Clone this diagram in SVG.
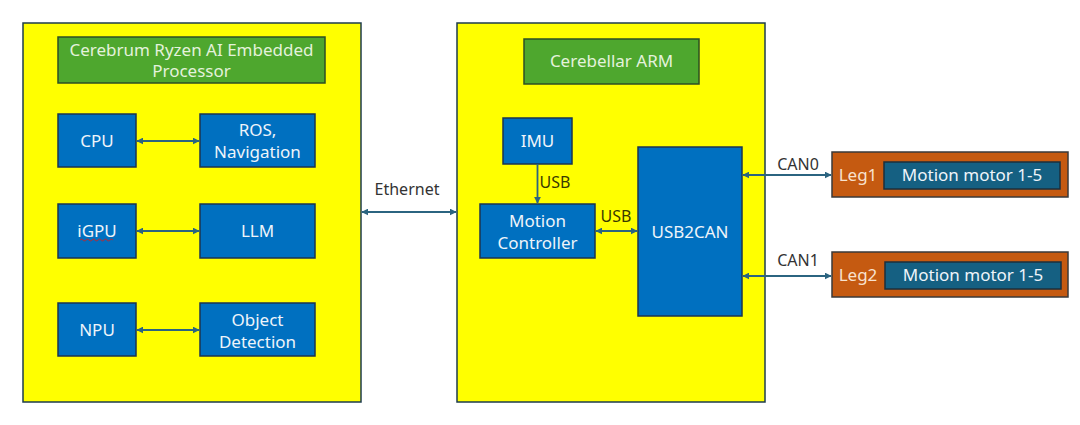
<svg xmlns="http://www.w3.org/2000/svg" width="1080" height="425" viewBox="0 0 1080 425">
<style>
.panel{fill:#FFFF00;stroke:#1e3d4c;stroke-width:1.5}
.green{fill:#4EA72E;stroke:#2d4f25;stroke-width:1.5}
.blue{fill:#0070C0;stroke:#1b3550;stroke-width:1.5}
.leg{fill:#C55A11;stroke:#3a3a3a;stroke-width:1.5}
.inner{fill:#156082;stroke:#1b2f3c;stroke-width:1.5}
text{font-family:"Noto Sans","Open Sans","Liberation Sans",sans-serif;font-size:17px;text-anchor:middle}
.wt{fill:#eef4fa}
.gt{fill:#e4f2dc}
.lt{fill:#f8e2cf}
.dt{fill:#333333;font-size:16px}
.yt{fill:#3a3a00;font-size:16px}
.conn{stroke:#2b6480;stroke-width:1.8;fill:none;marker-start:url(#ah);marker-end:url(#ah)}
.one{stroke:#2b6480;stroke-width:1.8;fill:none;marker-end:url(#ah)}
</style>
<defs>
<marker id="ah" viewBox="0 0 10 10" refX="9" refY="5" markerWidth="7" markerHeight="7" orient="auto-start-reverse" markerUnits="userSpaceOnUse">
<path d="M0,0 L10,5 L0,10 z" fill="#2b6480"/>
</marker>
</defs>

<g id="cerebrum">
<rect class="panel" x="23" y="23" width="338" height="379"/>
</g>
<g id="cerebrum-title">
<rect class="green" x="58" y="37" width="267" height="46"/>
<text class="gt" x="191.5" y="56">Cerebrum Ryzen AI Embedded</text>
<text class="gt" x="191.5" y="77">Processor</text>
</g>
<g id="cpu"><rect class="blue" x="58" y="114" width="78" height="53"/><text class="wt" x="97" y="147">CPU</text></g>
<g id="ros"><rect class="blue" x="200" y="114" width="115" height="53"/><text class="wt" x="257.5" y="136">ROS,</text><text class="wt" x="257.5" y="158">Navigation</text></g>
<g id="igpu"><rect class="blue" x="58" y="204" width="78" height="54"/><text class="wt" x="97" y="237">iGPU</text>
<path d="M80,240 q1.5,-2 3,0 t3,0 t3,0 t3,0 t3,0 t3,0 t3,0 t3,0 t3,0 t3,0 t3,0" stroke="#d02020" stroke-width="0.9" fill="none"/></g>
<g id="llm"><rect class="blue" x="200" y="204" width="115" height="54"/><text class="wt" x="257.5" y="237">LLM</text></g>
<g id="npu"><rect class="blue" x="58" y="303" width="78" height="53"/><text class="wt" x="97" y="336">NPU</text></g>
<g id="objdet"><rect class="blue" x="200" y="303" width="115" height="53"/><text class="wt" x="257.5" y="326">Object</text><text class="wt" x="257.5" y="348">Detection</text></g>

<g id="cerebellar">
<rect class="panel" x="457" y="23" width="308" height="379"/>
</g>
<g id="cerebellar-title"><rect class="green" x="524" y="39" width="175" height="45"/><text class="gt" x="611.5" y="67">Cerebellar ARM</text></g>
<g id="imu"><rect class="blue" x="503" y="118" width="69" height="46"/><text class="wt" x="537.5" y="147">IMU</text></g>
<g id="motionctl"><rect class="blue" x="480" y="204" width="115" height="54"/><text class="wt" x="537.5" y="227">Motion</text><text class="wt" x="537.5" y="249">Controller</text></g>
<g id="usb2can"><rect class="blue" x="638" y="147" width="104" height="169"/><text class="wt" x="690" y="238">USB2CAN</text></g>

<g id="leg1"><rect class="leg" x="832" y="152" width="236" height="45"/><text class="lt" x="858" y="181">Leg1</text>
<rect class="inner" x="884" y="162" width="176" height="27"/><text class="wt" x="972" y="181">Motion motor 1-5</text></g>
<g id="leg2"><rect class="leg" x="832" y="252" width="236" height="45"/><text class="lt" x="858" y="281">Leg2</text>
<rect class="inner" x="885" y="262" width="176" height="27"/><text class="wt" x="973" y="281">Motion motor 1-5</text></g>

<g id="connectors">
<line class="conn" x1="137" y1="141" x2="199" y2="141"/>
<line class="conn" x1="137" y1="231" x2="199" y2="231"/>
<line class="conn" x1="137" y1="330" x2="199" y2="330"/>
<line class="conn" x1="362" y1="212" x2="456" y2="212"/>
<line class="one" x1="537.5" y1="164" x2="537.5" y2="203"/>
<line class="conn" x1="596" y1="231" x2="637" y2="231"/>
<line class="conn" x1="743" y1="175" x2="831" y2="175"/>
<line class="conn" x1="743" y1="276" x2="831" y2="276"/>
</g>
<g id="labels">
<text class="dt" x="407" y="195">Ethernet</text>
<text class="yt" x="555" y="188">USB</text>
<text class="yt" x="616" y="222">USB</text>
<text class="dt" x="798" y="170">CAN0</text>
<text class="dt" x="798" y="266">CAN1</text>
</g>
</svg>
